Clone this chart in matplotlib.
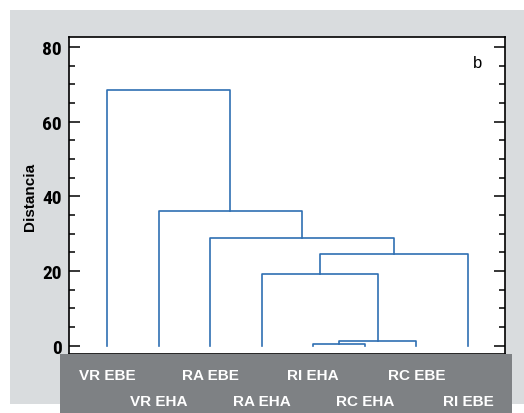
import matplotlib.pyplot as plt
from matplotlib.patches import Rectangle
from matplotlib.ticker import MultipleLocator
from matplotlib import font_manager

# hojas en el orden del dendrograma
etiquetas = ["VR EBE", "VR EHA", "RA EBE", "RA EHA", "RI EHA", "RC EHA", "RC EBE", "RI EBE"]
# uniones: (hijo izq, hijo der, distancia); indices >= 8 son grupos nuevos
uniones = [
    (4, 5, 0.5),
    (8, 6, 1.2),
    (3, 9, 19.3),
    (10, 7, 24.6),
    (2, 11, 28.9),
    (1, 12, 36.1),
    (0, 13, 68.4),
]

azul = '#2f6fb3'
gris_claro = '#d9dcde'
gris_oscuro = '#7e8184'

instaladas = {f.name for f in font_manager.fontManager.ttflist}
fuente_num = [f for f in ['Liberation Sans Narrow', 'DejaVu Sans Condensed', 'Roboto Condensed']
              if f in instaladas] + ['Liberation Sans', 'DejaVu Sans']

fig = plt.figure(figsize=(5.24, 4.14), dpi=100)

fondo = Rectangle((10 / 524, 9 / 414), 514 / 524, 394 / 414, transform=fig.transFigure,
                  facecolor=gris_claro, edgecolor='none', zorder=-1)
fig.patches.append(fondo)

ax = fig.add_axes([69 / 524, 1 - 355 / 414, 436 / 524, 317 / 414])

# posicion x y altura de cada nodo
pos = {i: i + 1 for i in range(len(etiquetas))}
alt = {i: 0.0 for i in range(len(etiquetas))}
n = len(etiquetas)
for k, (a, b, h) in enumerate(uniones):
    ax.plot([pos[a], pos[a], pos[b], pos[b]], [alt[a], h, h, alt[b]], color=azul, lw=1.2)
    pos[n + k] = (pos[a] + pos[b]) / 2
    alt[n + k] = h

ax.set_xlim(0.26, 8.72)
ax.set_ylim(-2.2, 82.7)
ax.set_xticks([])
ax.yaxis.set_major_locator(MultipleLocator(20))
ax.yaxis.set_minor_locator(MultipleLocator(5))
ax.tick_params(axis='y', which='major', direction='in', length=8, width=1.1, right=True, pad=5)
ax.tick_params(axis='y', which='minor', direction='in', length=4, width=1.1, right=True)
for s in ax.spines.values():
    s.set_linewidth(1.2)

for t in ax.get_yticklabels():
    t.set_family(fuente_num)
    t.set_fontweight('bold')
    t.set_fontsize(14)
ax.set_ylabel("Distancia", fontsize=11, fontweight='bold', labelpad=4,
              family=['Liberation Sans', 'DejaVu Sans'])
ax.text(0.936, 0.92, "b", transform=ax.transAxes, fontsize=12, ha='center', va='center',
        family=['Liberation Sans', 'DejaVu Sans'])

caja = Rectangle((60 / 524, 0), 452 / 524, 59 / 414, transform=fig.transFigure,
                 facecolor=gris_oscuro, edgecolor='none', zorder=1)
fig.patches.append(caja)

# etiquetas escalonadas dentro de la caja
for i, et in enumerate(etiquetas):
    xd = ax.transData.transform((pos[i], 0))[0]
    xf = fig.transFigure.inverted().transform((xd, 0))[0]
    yf = 1 - 376 / 414 if i % 2 == 0 else 1 - 402 / 414
    fig.text(xf, yf, et, color='white', fontweight='bold', fontsize=11,
             family=['Liberation Sans', 'DejaVu Sans'], ha='center', va='center', zorder=2)

fig.savefig('out.png', dpi=100)
